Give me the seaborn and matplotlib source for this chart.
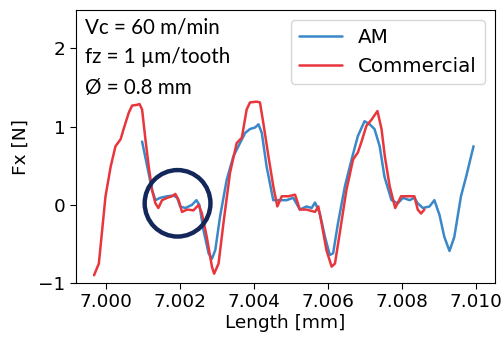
import numpy as np
import pandas as pd
import matplotlib
matplotlib.use("Agg")
import matplotlib.pyplot as plt
from matplotlib.patches import Ellipse
import seaborn as sns

# ---- data ----
am_x = [7.00097, 7.00111, 7.00124, 7.00133, 7.00146, 7.00165, 7.00182, 7.00192, 7.00200, 7.00214,
        7.00232, 7.00244, 7.00252, 7.00263, 7.00277, 7.00286, 7.00295, 7.00308, 7.00326, 7.00344,
        7.00362, 7.00376, 7.00389, 7.00403, 7.00412, 7.00421, 7.00434, 7.00452, 7.00470, 7.00488,
        7.00506, 7.00524, 7.00542, 7.00556, 7.00565, 7.00578, 7.00592, 7.00605, 7.00614, 7.00627,
        7.00646, 7.00664, 7.00681, 7.00699, 7.00713, 7.00726, 7.00740, 7.00753, 7.00772, 7.00789,
        7.00803, 7.00821, 7.00834, 7.00843, 7.00857, 7.00875, 7.00888, 7.00902, 7.00915, 7.00929,
        7.00942, 7.00960, 7.00974, 7.00994]
am_y = [0.81, 0.49, 0.19, 0.06, 0.09, 0.11, 0.12, 0.09, -0.02, -0.04,
        0.00, 0.06, 0.00, -0.32, -0.62, -0.69, -0.58, -0.15, 0.32, 0.62,
        0.79, 0.92, 0.97, 0.99, 1.03, 0.92, 0.49, 0.06, 0.06, 0.06,
        0.09, -0.06, -0.02, -0.04, 0.03, -0.11, -0.41, -0.64, -0.62, -0.24,
        0.24, 0.58, 0.88, 1.07, 1.03, 0.97, 0.75, 0.36, 0.06, 0.02,
        0.09, 0.06, 0.09, 0.02, -0.04, -0.02, 0.06, -0.13, -0.41, -0.59,
        -0.41, 0.11, 0.36, 0.75]

com_x = [6.99967, 6.99980, 6.99989, 6.99998, 7.00012, 7.00025, 7.00039, 7.00047, 7.00061, 7.00070,
         7.00084, 7.00090, 7.00097, 7.00106, 7.00115, 7.00124, 7.00133, 7.00141, 7.00151, 7.00165,
         7.00178, 7.00187, 7.00196, 7.00205, 7.00219, 7.00236, 7.00250, 7.00259, 7.00272, 7.00286,
         7.00292, 7.00304, 7.00317, 7.00335, 7.00353, 7.00367, 7.00380, 7.00389, 7.00407, 7.00416,
         7.00425, 7.00439, 7.00452, 7.00463, 7.00475, 7.00493, 7.00511, 7.00524, 7.00542, 7.00565,
         7.00574, 7.00583, 7.00596, 7.00610, 7.00619, 7.00632, 7.00650, 7.00668, 7.00681, 7.00691,
         7.00704, 7.00718, 7.00734, 7.00745, 7.00754, 7.00767, 7.00782, 7.00798, 7.00816, 7.00834,
         7.00843, 7.00852, 7.00861]
com_y = [-0.90, -0.75, -0.32, 0.11, 0.49, 0.75, 0.84, 0.97, 1.18, 1.27,
         1.28, 1.29, 1.22, 0.84, 0.49, 0.19, 0.02, -0.04, 0.06, 0.09,
         0.11, 0.14, 0.06, -0.09, -0.06, -0.07, 0.00, -0.11, -0.41, -0.79,
         -0.88, -0.75, -0.24, 0.41, 0.79, 0.86, 1.22, 1.31, 1.32, 1.31,
         1.05, 0.62, 0.24, -0.02, 0.11, 0.11, 0.13, -0.06, -0.06, -0.09,
         -0.02, -0.24, -0.58, -0.79, -0.75, -0.36, 0.19, 0.58, 0.67, 0.81,
         1.01, 1.09, 1.20, 0.97, 0.62, 0.24, -0.04, 0.11, 0.11, 0.11,
         -0.06, -0.11, -0.06]

series_names = ["AM", "Commercial"]
annot_lines = ["Vc = 60 m/min", "fz = 1 \u00b5m/tooth", "\u00d8 = 0.8 mm"]
x_ticks = [7.000, 7.002, 7.004, 7.006, 7.008, 7.010]
y_ticks = [-1, 0, 1, 2]

df = pd.concat([
    pd.DataFrame({"x": am_x, "y": am_y, "series": series_names[0]}),
    pd.DataFrame({"x": com_x, "y": com_y, "series": series_names[1]}),
], ignore_index=True)

fig = plt.figure(figsize=(5.03, 3.39), dpi=100)
ax = fig.add_axes([0.151, 0.165, 0.833, 0.805])

palette = {"AM": "#3a88c9", "Commercial": "#e8363c"}
sns.lineplot(data=df, x="x", y="y", hue="series", palette=palette, sort=False,
             estimator=None, linewidth=1.8, ax=ax)
for ln in ax.get_lines():
    ln.set_solid_joinstyle("round")
    ln.set_solid_capstyle("round")

ax.set_xlim(6.99918, 7.01052)
ax.set_ylim(-1.0, 2.49)
ax.set_xticks(x_ticks)
ax.set_xticklabels([f"{v:.3f}" for v in x_ticks])
ax.set_yticks(y_ticks)
ax.set_yticklabels([f"{v}".replace("-", "\u2212") for v in y_ticks])
ax.tick_params(labelsize=13.3, length=4)
ax.set_xlabel("Length [mm]", fontsize=13.3, labelpad=2)
ax.set_ylabel("Fx [N]", fontsize=13.3, labelpad=6)

leg = ax.legend(loc="upper right", fontsize=14.3, frameon=True, borderaxespad=0.5,
                handlelength=2.2)
leg.set_title(None)

# circle highlighting region
ell = Ellipse((7.00193, 0.02), width=0.00178, height=0.85, fill=False,
              edgecolor="#13275a", linewidth=3.2, zorder=5)
ax.add_patch(ell)

ys = [0.938, 0.828, 0.714]
for t, yy in zip(annot_lines, ys):
    ax.text(0.022, yy, t, transform=ax.transAxes, fontsize=14.8,
            family=["Lato", "DejaVu Sans"], va="center", ha="left")

fig.savefig("out.png", dpi=100)
